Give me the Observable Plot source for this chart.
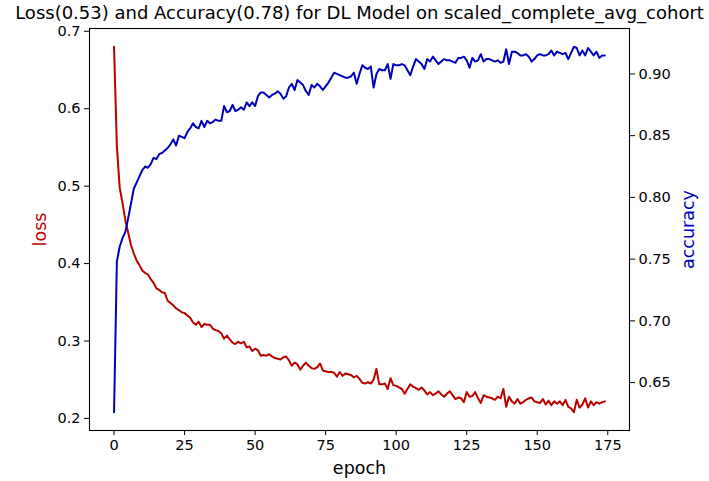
<!DOCTYPE html>
<html>
<head>
<meta charset="utf-8">
<script src="https://cdn.jsdelivr.net/npm/d3@7"></script>
<script src="https://cdn.jsdelivr.net/npm/@observablehq/plot@0.6"></script>
<style>
  html, body { margin: 0; padding: 0; background: #fff; }
  #chart svg { display: block; }
</style>
</head>
<body>
<div id="chart"></div>
<script>
const titleText = "Loss(0.53) and Accuracy(0.78) for DL Model on scaled_complete_avg_cohort";

const loss = [
  0.680, 0.552, 0.498, 0.478, 0.456, 0.440, 0.424, 0.413, 0.404, 0.398,
  0.391, 0.388, 0.386, 0.380, 0.375, 0.368, 0.366, 0.363, 0.362, 0.352,
  0.349, 0.346, 0.342, 0.340, 0.337, 0.336, 0.333, 0.330, 0.324, 0.321,
  0.325, 0.318, 0.322, 0.321, 0.321, 0.316, 0.314, 0.313, 0.310, 0.303,
  0.307, 0.302, 0.298, 0.296, 0.299, 0.297, 0.299, 0.292, 0.293, 0.287,
  0.290, 0.288, 0.281, 0.282, 0.281, 0.283, 0.280, 0.278, 0.277, 0.276,
  0.279, 0.280, 0.275, 0.268, 0.272, 0.270, 0.263, 0.268, 0.272, 0.268,
  0.265, 0.264, 0.266, 0.271, 0.262, 0.261, 0.260, 0.260, 0.259, 0.254,
  0.260, 0.255, 0.258, 0.257, 0.256, 0.253, 0.255, 0.251, 0.246, 0.245,
  0.247, 0.245, 0.250, 0.264, 0.244, 0.244, 0.245, 0.238, 0.252, 0.243,
  0.242, 0.240, 0.238, 0.232, 0.238, 0.244, 0.241, 0.239, 0.237, 0.240,
  0.236, 0.231, 0.234, 0.230, 0.232, 0.235, 0.231, 0.228, 0.232, 0.235,
  0.230, 0.225, 0.227, 0.226, 0.221, 0.234, 0.228, 0.229, 0.234, 0.226,
  0.220, 0.230, 0.228, 0.227, 0.226, 0.224, 0.228, 0.226, 0.238, 0.215,
  0.228, 0.222, 0.219, 0.225, 0.219, 0.221, 0.224, 0.226, 0.227, 0.222,
  0.221, 0.220, 0.225, 0.218, 0.223, 0.217, 0.222, 0.219, 0.222, 0.217,
  0.224, 0.215, 0.213, 0.208, 0.224, 0.214, 0.218, 0.226, 0.214, 0.222,
  0.217, 0.221, 0.219, 0.221, 0.222
];

const accuracy = [
  0.626, 0.748, 0.760, 0.767, 0.772, 0.783, 0.795, 0.807, 0.812, 0.817,
  0.822, 0.825, 0.824, 0.827, 0.832, 0.831, 0.835, 0.836, 0.838, 0.840,
  0.843, 0.847, 0.842, 0.850, 0.849, 0.848, 0.853, 0.856, 0.860, 0.857,
  0.856, 0.862, 0.857, 0.862, 0.860, 0.861, 0.863, 0.862, 0.862, 0.874,
  0.869, 0.870, 0.875, 0.870, 0.871, 0.873, 0.871, 0.877, 0.874, 0.877,
  0.874, 0.882, 0.885, 0.885, 0.883, 0.881, 0.883, 0.884, 0.886, 0.884,
  0.880, 0.882, 0.889, 0.892, 0.887, 0.895, 0.893, 0.891, 0.886, 0.883,
  0.891, 0.889, 0.892, 0.890, 0.887, 0.890, 0.893, 0.897, 0.901, 0.900,
  0.899, 0.898, 0.897, 0.897, 0.898, 0.901, 0.892, 0.900, 0.907, 0.905,
  0.904, 0.906, 0.889, 0.900, 0.904, 0.903, 0.903, 0.908, 0.896, 0.908,
  0.907, 0.907, 0.908, 0.907, 0.903, 0.899, 0.906, 0.912, 0.910, 0.908,
  0.904, 0.912, 0.910, 0.914, 0.911, 0.908, 0.910, 0.912, 0.911, 0.911,
  0.910, 0.909, 0.913, 0.913, 0.914, 0.911, 0.905, 0.913, 0.910, 0.911,
  0.916, 0.910, 0.912, 0.912, 0.911, 0.910, 0.911, 0.909, 0.910, 0.920,
  0.908, 0.918, 0.918, 0.917, 0.915, 0.915, 0.916, 0.914, 0.910, 0.912,
  0.915, 0.916, 0.915, 0.915, 0.916, 0.919, 0.915, 0.918, 0.917, 0.916,
  0.917, 0.912, 0.917, 0.922, 0.921, 0.915, 0.919, 0.915, 0.921, 0.918,
  0.915, 0.918, 0.913, 0.915, 0.915
];

const epochTicks = [0, 25, 50, 75, 100, 125, 150, 175];
const lossTicks = [0.2, 0.3, 0.4, 0.5, 0.6, 0.7];
const accTicks = [0.65, 0.70, 0.75, 0.80, 0.85, 0.90];

const lossColor = "#bb0000";
const accColor = "#0000bb";

// matplotlib-style 5% padding on each axis
function padded(values, frac) {
  const [lo, hi] = d3.extent(values);
  const m = (hi - lo) * frac;
  return [lo - m, hi + m];
}
const epochs = loss.map((_, i) => i);
const xDomain = padded(epochs, 0.05);
const lossDomain = padded(loss, 0.05);
const accDomain = padded(accuracy, 0.05);

// map accuracy into the loss scale units (twin axis)
const accToY = d3.scaleLinear().domain(accDomain).range(lossDomain);

const rows = epochs.map(i => ({epoch: i, loss: loss[i], acc: accuracy[i]}));

const font = "DejaVu Sans, Liberation Sans, sans-serif";

const chart = Plot.plot({
  width: 709,
  height: 481,
  marginLeft: 89,
  marginRight: 80,
  marginTop: 28,
  marginBottom: 51,
  style: {fontFamily: font, fontSize: "13.9px", color: "#000", background: "#fff", overflow: "visible"},
  x: {domain: xDomain},
  y: {domain: lossDomain},
  marks: [
    Plot.line(rows, {x: "epoch", y: "loss", stroke: lossColor, strokeWidth: 2}),
    Plot.line(rows, {x: "epoch", y: d => accToY(d.acc), stroke: accColor, strokeWidth: 2}),
    Plot.frame({stroke: "#000", strokeWidth: 1.1}),
    Plot.axisX(epochTicks, {tickSize: 5, tickPadding: 4, label: null, stroke: "#000", fontSize: 14.5}),
    Plot.axisY(lossTicks, {anchor: "left", tickSize: 5, tickPadding: 4, label: null, tickFormat: d => d.toFixed(1), stroke: "#000", fontSize: 14.5}),
    Plot.axisY(accTicks.map(a => accToY(a)), {anchor: "right", tickSize: 5, tickPadding: 4, label: null,
      tickFormat: d => accToY.invert(d).toFixed(2), stroke: "#000", fontSize: 14.5}),
    Plot.text([titleText], {frameAnchor: "top", lineAnchor: "middle", dy: -15, fontSize: 18, fill: "#000"}),
    Plot.text(["epoch"], {frameAnchor: "bottom", lineAnchor: "middle", dy: 38, fontSize: 17.5, fill: "#000"}),
    Plot.text(["loss"], {frameAnchor: "left", textAnchor: "middle", lineAnchor: "middle", dx: -49, rotate: -90, fontSize: 17.5, fill: lossColor}),
    Plot.text(["accuracy"], {frameAnchor: "right", textAnchor: "middle", lineAnchor: "middle", dx: 59, rotate: -90, fontSize: 17.5, fill: accColor})
  ]
});
document.getElementById("chart").appendChild(chart);
</script>
</body>
</html>
